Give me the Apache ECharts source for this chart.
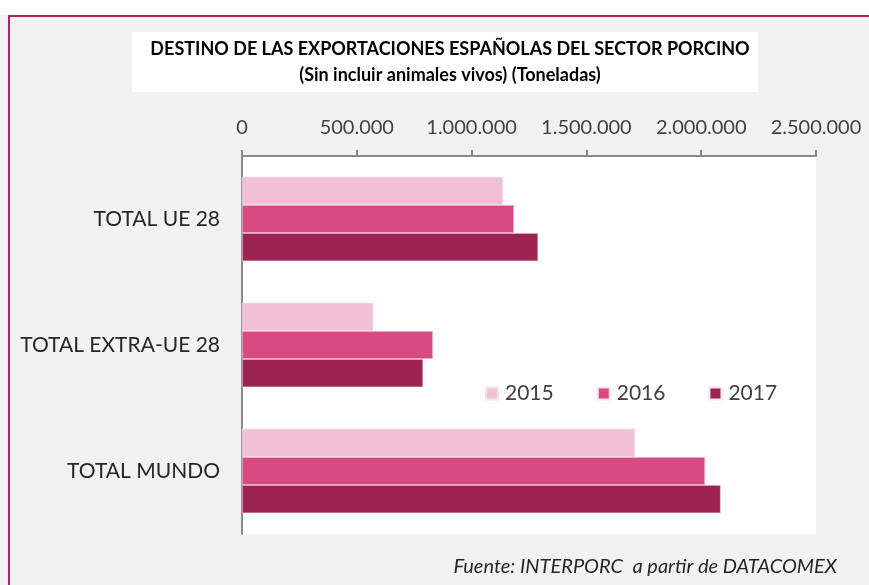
<!DOCTYPE html>
<html>
<head>
<meta charset="utf-8">
<script src="https://cdn.jsdelivr.net/npm/echarts@6/dist/echarts.min.js"></script>
<style>
  html, body { margin: 0; padding: 0; background: #fff; }
  #chart { width: 869px; height: 585px; }
</style>
</head>
<body>
<div id="chart"></div>
<script>
// categories top to bottom
const categories = ['TOTAL UE 28', 'TOTAL EXTRA-UE 28', 'TOTAL MUNDO']
const years = ['2015', '2016', '2017']
// toneladas
const values2015 = [1137000, 572000, 1712000]
const values2016 = [1185000, 832000, 2017000]
const values2017 = [1290000, 789000, 2085000]
const axisTicks = [0, 500000, 1000000, 1500000, 2000000, 2500000]

const colors = ['#f2c0d5', '#d84a84', '#9c2352']
const font = 'Lato, "Open Sans", sans-serif'

function fmt(v) {
  return String(v).replace(/\B(?=(\d{3})+(?!\d))/g, '.')
}

const chart = echarts.init(document.getElementById('chart'), null, { renderer: 'canvas' })

const seriesData = [values2015, values2016, values2017]

chart.setOption({
  backgroundColor: '#f2f2f2',
  animation: false,
  textStyle: { fontFamily: font },
  graphic: [
    // white strip above the frame
    { type: 'rect', shape: { x: 0, y: 0, width: 869, height: 15 }, style: { fill: '#fff' }, silent: true },
    // frame
    { type: 'polyline', shape: { points: [[9, 585], [9, 16], [869, 16]] },
      style: { stroke: '#a8245e', lineWidth: 2, fill: null }, silent: true },
    // title box
    { type: 'rect', shape: { x: 132, y: 32, width: 626, height: 60 }, style: { fill: '#fff' }, silent: true },
    // source
    { type: 'text', right: 32, top: 557,
      style: { text: 'Fuente: INTERPORC  a partir de DATACOMEX', fill: '#262626',
        font: 'italic 20px ' + font } }
  ],
  title: {
    text: 'DESTINO DE LAS EXPORTACIONES ESPAÑOLAS DEL SECTOR PORCINO\n(Sin incluir animales vivos) (Toneladas)',
    left: 445,
    top: 31,
    textAlign: 'center',
    textStyle: { fontFamily: font, fontWeight: 'bold', fontSize: 18, lineHeight: 26, color: '#000' }
  },
  legend: {
    data: years,
    left: 480,
    top: 378,
    icon: 'rect',
    itemWidth: 12,
    itemHeight: 12,
    itemGap: 43,
    textStyle: { fontFamily: font, fontSize: 21, color: '#404040', padding: [0, 0, 0, 2] }
  },
  grid: {
    left: 242, right: 53, top: 156, bottom: 51,
    show: true, backgroundColor: '#fff', borderWidth: 0
  },
  xAxis: {
    type: 'value',
    position: 'top',
    min: axisTicks[0],
    max: axisTicks[axisTicks.length - 1],
    interval: axisTicks[1] - axisTicks[0],
    axisLine: { show: true, lineStyle: { color: '#898989', width: 2 } },
    axisTick: { show: true, length: 6, lineStyle: { color: '#898989', width: 2 } },
    splitLine: { show: false },
    axisLabel: { formatter: fmt, fontFamily: font, fontSize: 20, color: '#404040', margin: 18 }
  },
  yAxis: {
    type: 'category',
    data: categories,
    inverse: true,
    axisLine: { show: true, lineStyle: { color: '#898989', width: 2 } },
    axisTick: { show: false },
    axisLabel: { fontFamily: font, fontSize: 21, color: '#262626', margin: 22 }
  },
  series: years.map((y, i) => ({
    name: y,
    type: 'bar',
    data: seriesData[i],
    barGap: '0%',
    barCategoryGap: '33%',
    itemStyle: { color: colors[i], borderColor: '#fbe3ee', borderWidth: 0.6 }
  }))
})
</script>
</body>
</html>
